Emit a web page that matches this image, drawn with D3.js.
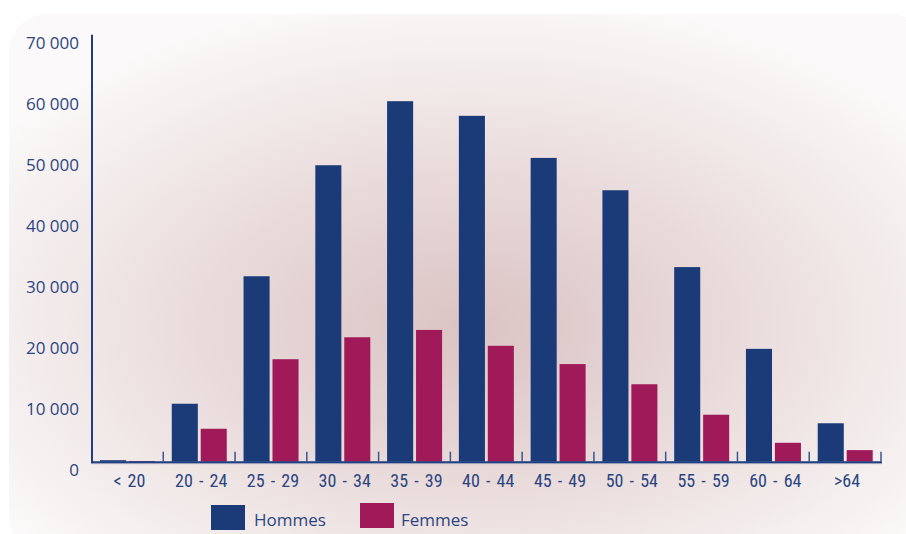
<!DOCTYPE html>
<html><head><meta charset="utf-8">
<script src="https://cdn.jsdelivr.net/npm/d3@7"></script>
<style>
html,body{margin:0;padding:0;background:#fff;}
svg{display:block;}
</style></head>
<body>
<svg id="chart" width="906" height="534"></svg>
<script>
const categories = ["< 20","20 - 24","25 - 29","30 - 34","35 - 39","40 - 44","45 - 49","50 - 54","55 - 59","60 - 64",">64"];
const hommes = [250, 9500, 30400, 48600, 59100, 56700, 49800, 44500, 31900, 18500, 6300];
const femmes = [120, 5400, 16800, 20400, 21600, 19000, 16000, 12700, 7700, 3100, 1900];
const seriesNames = ["Hommes","Femmes"];
const seriesColors = ["#1a3a78","#a01a5a"];
const yTicks = [0,10000,20000,30000,40000,50000,60000,70000];

const svg = d3.select("#chart");
const defs = svg.append("defs");
const grad = defs.append("radialGradient").attr("id","bg")
  .attr("cx","0.5").attr("cy","0.58").attr("r","0.62").attr("fx","0.5").attr("fy","0.58");
grad.append("stop").attr("offset","0%").attr("stop-color","#dbc3c3");
grad.append("stop").attr("offset","45%").attr("stop-color","#e9dada");
grad.append("stop").attr("offset","100%").attr("stop-color","#fbf9f9");

svg.append("rect").attr("x",9).attr("y",14).attr("width",920).attr("height",540)
  .attr("rx",38).attr("ry",38).attr("fill","url(#bg)");

const x0 = d3.scaleBand().domain(categories).range([91.5, 881]).padding(0);
const x1 = d3.scaleBand().domain(seriesNames).range([8.5, 63.5]).paddingInner(0.1);
const y = d3.scaleLinear().domain([0,70000]).range([461.7, 34.7]);

const locale = d3.formatLocale({decimal:",", thousands:"\u00a0", grouping:[3], currency:["","€"]});
const fmt = locale.format(",d");

const textColor = "#2b4581";

// y tick labels
svg.append("g").selectAll("text").data(yTicks).join("text")
  .attr("x",79).attr("y",d=>y(d)+8).attr("dy","0.35em")
  .attr("text-anchor","end")
  .attr("font-family","'Open Sans', 'Noto Sans', sans-serif")
  .attr("font-size",17).attr("fill",textColor)
  .text(d=>fmt(d).replace(/\u00a0/g," "));

// bars
const data = categories.map((c,i)=>({cat:c, vals:[{s:"Hommes",v:hommes[i]},{s:"Femmes",v:femmes[i]}]}));
const g = svg.append("g");
g.selectAll("g").data(data).join("g")
  .attr("transform",d=>`translate(${x0(d.cat)},0)`)
  .selectAll("rect").data(d=>d.vals).join("rect")
  .attr("x",d=>x1(d.s)).attr("width",x1.bandwidth())
  .attr("y",d=>y(d.v)).attr("height",d=>y(0)-y(d.v))
  .attr("fill",d=>seriesColors[seriesNames.indexOf(d.s)]);

// x axis line with shadow
svg.append("line").attr("x1",92).attr("x2",882).attr("y1",y(0)+2).attr("y2",y(0)+2)
  .attr("stroke","#b7bccb").attr("stroke-width",1);
svg.append("line").attr("x1",91).attr("x2",882).attr("y1",y(0)+0.5).attr("y2",y(0)+0.5)
  .attr("stroke","#1f3f80").attr("stroke-width",2);
// y axis line
svg.append("line").attr("x1",92).attr("x2",92).attr("y1",y(70000)).attr("y2",y(0)+1.5)
  .attr("stroke","#1f3f80").attr("stroke-width",2);

// ticks at band boundaries
svg.append("g").selectAll("line").data(categories).join("line")
  .attr("x1",d=>x0(d)+x0.bandwidth()).attr("x2",d=>x0(d)+x0.bandwidth())
  .attr("y1",y(0)-10).attr("y2",y(0))
  .attr("stroke","#3a5590").attr("stroke-width",1.5);

// x labels
svg.append("g").selectAll("text").data(categories).join("text")
  .attr("x",d=>x0(d)+x0.bandwidth()/2+2).attr("y",481).attr("dy","0.35em")
  .attr("text-anchor","middle")
  .attr("font-family","'Liberation Sans Narrow', 'Roboto Condensed', sans-serif")
  .attr("font-size",18).attr("fill",textColor)
  .attr("word-spacing","2px")
  .text(d=>d);

// legend
const legendItems = [{s:"Hommes",x:211,y:505,tx:254},{s:"Femmes",x:360,y:503,tx:401}];
const lg = svg.append("g").selectAll("g").data(legendItems).join("g");
lg.append("rect").attr("x",d=>d.x).attr("y",d=>d.y).attr("width",34).attr("height",25)
  .attr("fill",d=>seriesColors[seriesNames.indexOf(d.s)]);
lg.append("text").attr("x",d=>d.tx).attr("y",526)
  .attr("font-family","'Open Sans', 'Noto Sans', sans-serif")
  .attr("font-size",17).attr("fill",textColor).text(d=>d.s);
</script>
</body></html>
